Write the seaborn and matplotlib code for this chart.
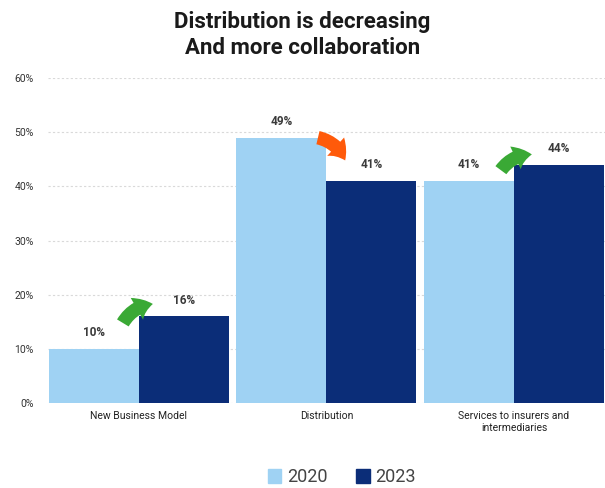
import matplotlib
matplotlib.use("Agg")
import matplotlib.pyplot as plt
import seaborn as sns
import pandas as pd

categories = ["New Business Model", "Distribution", "Services to insurers and\nintermediaries"]
years = ["2020", "2023"]
values_2020 = [10, 49, 41]
values_2023 = [16, 41, 44]
y_ticks = [0, 10, 20, 30, 40, 50, 60]

colors = {"2020": "#9fd2f3", "2023": "#0b2d78"}

df = pd.DataFrame({
    "category": categories * 2,
    "year": [years[0]] * 3 + [years[1]] * 3,
    "value": values_2020 + values_2023,
})

sns.set_theme(style="white")
plt.rcParams["font.family"] = ["Roboto", "DejaVu Sans"]

fig = plt.figure(figsize=(6.05, 4.88), dpi=100)
ax = fig.add_axes([0.079, 0.174, 0.921, 0.666])

sns.barplot(data=df, x="category", y="value", hue="year", order=categories,
            hue_order=years, palette=colors, width=0.96, gap=0,
            saturation=1, linewidth=0, ax=ax, legend=False)

ax.set_ylim(0, 60)
ax.set_xlim(-0.485, 2.485)
ax.set_yticks(y_ticks)
ax.set_yticklabels([f"{t}%" for t in y_ticks], fontsize=7.5, color="#333333")
ax.tick_params(axis="x", labelsize=7.5, labelcolor="#222222", length=0, pad=6)
ax.tick_params(axis="y", length=0, pad=10)
ax.set_xlabel("")
ax.set_ylabel("")
ax.yaxis.grid(True, linestyle=(0, (2, 2)), color="#d9d9d9", linewidth=0.8)
ax.set_axisbelow(True)
for s in ax.spines.values():
    s.set_visible(False)

# value labels above each bar
for container in ax.containers:
    ax.bar_label(container, labels=[f"{v:.0f}%" for v in container.datavalues],
                 padding=7, fontsize=8.5, fontweight="bold", color="#3a3a3a")

# trend arrows between the paired bars
green = "#3aa935"
orange = "#ff5a0a"
arrow_specs = [
    ((-0.085, 14.8), (0.075, 18.3), green),
    ((0.955, 49.0), (1.10, 44.8), orange),
    ((1.93, 43.0), (2.095, 45.9), green),
]
for start, end, col in arrow_specs:
    ax.annotate("", xy=end, xytext=start,
                arrowprops=dict(arrowstyle="simple,head_length=0.8,head_width=1.2,tail_width=0.65",
                                color=col, connectionstyle="arc3,rad=-0.25", lw=0,
                                mutation_scale=15, shrinkA=0, shrinkB=0))

fig.suptitle("Distribution is decreasing\nAnd more collaboration", x=0.5, y=0.977,
             fontsize=16, fontweight="bold", color="#1a1a1a", linespacing=1.2)

handles = [plt.Rectangle((0, 0), 1, 1, color=colors[y]) for y in years]
fig.legend(handles, years, loc="center", bbox_to_anchor=(0.565, 0.022), ncol=2,
           frameon=False, fontsize=13, handlelength=0.75, handleheight=0.75,
           handletextpad=0.3, columnspacing=1.6, labelcolor="#444444")

fig.savefig("out.png", dpi=100)
